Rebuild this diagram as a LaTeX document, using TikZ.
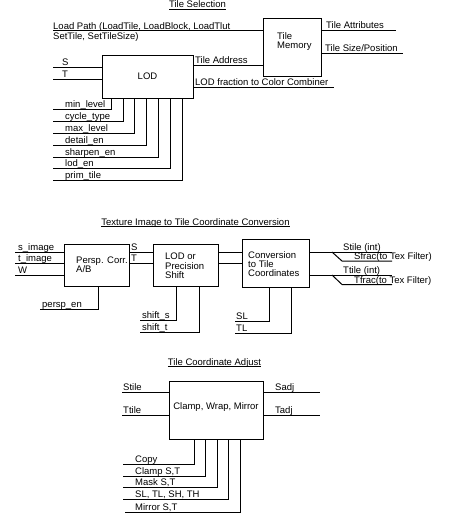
\documentclass[tikz,border=0pt]{standalone}
\usepackage{fontspec}
\setmainfont{Liberation Sans}
\usetikzlibrary{calc}
\tikzset{
	blk/.style={draw, line width=1pt, inner sep=0pt},
	lbl/.style={anchor=base west, inner sep=0pt, font=\fontsize{9.5}{9.2}\selectfont},
	wire/.style={line width=1pt}
}
\newcommand{\ttlline}[1]{\underline{\smash{#1}}}

\begin{document}
\begin{tikzpicture}[x=1pt, y=-1pt]
	%%%%% START %%%%%
	\useasboundingbox (0,0) rectangle (455,523);

	% tile selection
	\node[lbl, anchor=base] (selTitle) at (197.5,7.5) {\ttlline{Tile Selection}};

	\node[blk, minimum width=91, minimum height=43, font=\fontsize{9.5}{9.2}\selectfont] (lod) at (147.5,76.5) {LOD};
	\node[blk, minimum width=58, minimum height=58] (mem) at (292,47) {};
	\node[lbl, anchor=north west, align=left] (memTxt) at (277,32) {Tile\\Memory};

	\node[lbl, anchor=north west, align=left, font=\fontsize{9.5}{10.5}\selectfont] (loadTxt) at (53,22) {Load Path (LoadTile, LoadBlock, LoadTlut\\SetTile, SetTileSize)};
	\coordinate (loadIn) at (53,30);
	\draw[wire] (loadIn) -- (loadIn -| mem.west);

	\coordinate (sIn) at (53,67);
	\coordinate (tIn) at (53,79);
	\draw[wire] (sIn) -- (sIn -| lod.west);
	\draw[wire] (tIn) -- (tIn -| lod.west);
	\node[lbl] (sLbl) at (62,65.5) {S};
	\node[lbl] (tLbl) at (62,77.5) {T};

	\draw[wire] (lod.east |- 0,65) -- (mem.west |- 0,65);
	\node[lbl] (addrLbl) at (195,63.5) {Tile Address};
	\coordinate (fracOut) at (334,87);
	\draw[wire] (lod.east |- fracOut) -- (fracOut);
	\node[lbl] (fracLbl) at (195,85.5) {LOD fraction to Color Combiner};

	\coordinate (attrOut) at (396,30);
	\draw[wire] (mem.east |- attrOut) -- (attrOut);
	\node[lbl] (attrLbl) at (326,28.5) {Tile Attributes};
	\coordinate (sizeOut) at (403,53);
	\draw[wire] (mem.east |- sizeOut) -- (sizeOut);
	\node[lbl] (sizeLbl) at (325,51.5) {Tile Size/Position};

	\foreach \i/\xv/\yv/\txt in {1/111/109/min\_level, 2/123/121/cycle\_type, 3/134/133/max\_level, 4/146/145/detail\_en, 5/158/157/sharpen\_en, 6/170/168/lod\_en, 7/182/180/prim\_tile} {
		\coordinate (lodc\i) at (53,\yv);
		\draw[wire] (lodc\i) -- (\xv,\yv) -- (lod.south -| \xv,0);
		\node[lbl] (lodl\i) at (65,\yv-1.5) {\txt};
	}

	% texture image to tile coordinate conversion
	\node[lbl, anchor=base] (texTitle) at (195.5,225) {\ttlline{Texture Image to Tile Coordinate Conversion}};

	\node[blk, minimum width=65, minimum height=42] (persp) at (96.5,265) {};
	\node[lbl, anchor=north west, align=left] (perspTxt) at (76,256.5) {Persp. Corr.\\A/B};
	\node[blk, minimum width=65, minimum height=42] (shift) at (185.5,265) {};
	\node[lbl, anchor=north west, align=left] (shiftTxt) at (165,253) {LOD or\\Precision\\Shift};
	\node[blk, minimum width=67, minimum height=48] (conv) at (275.5,263) {};
	\node[lbl, anchor=north west, align=left] (convTxt) at (248,251.5) {Conversion\\to Tile\\Coordinates};

	\foreach \i/\yv/\txt in {1/252/s\_image, 2/263/t\_image, 3/275/W} {
		\coordinate (pin\i) at (15,\yv);
		\draw[wire] (pin\i) -- (pin\i -| persp.west);
		\node[lbl] (pinl\i) at (18,\yv-1.5) {\txt};
	}
	\coordinate (perspEn) at (40,309);
	\draw[wire] (perspEn) -- (98,309) -- (persp.south -| 98,0);
	\node[lbl] (perspEnLbl) at (42,307.5) {persp\_en};

	\foreach \i/\yv/\txt in {1/252/S, 2/263/T} {
		\draw[wire] (persp.east |- 0,\yv) -- (shift.west |- 0,\yv);
		\node[lbl] (stl\i) at (131,\yv-1.5) {\txt};
		\draw[wire] (shift.east |- 0,\yv) -- (conv.west |- 0,\yv);
	}

	\foreach \i/\xv/\yv/\txt in {1/176/320/shift\_s, 2/199/332/shift\_t} {
		\coordinate (shc\i) at (140,\yv);
		\draw[wire] (shc\i) -- (\xv,\yv) -- (shift.south -| \xv,0);
		\node[lbl] (shl\i) at (142,\yv-1.5) {\txt};
	}
	\foreach \i/\xv/\yv/\txt in {1/269/321/SL, 2/291/333/TL} {
		\coordinate (cvc\i) at (235,\yv);
		\draw[wire] (cvc\i) -- (\xv,\yv) -- (conv.south -| \xv,0);
		\node[lbl] (cvl\i) at (236,\yv-1.5) {\txt};
	}

	\foreach \i/\yv/\ya/\tint/\fr in {1/252/261/Stile/Sfrac, 2/275/284.5/Ttile/Tfrac} {
		\coordinate (intOut\i) at (392,\yv);
		\coordinate (fracOut\i) at (392,\ya);
		\draw[wire] (conv.east |- intOut\i) -- (intOut\i);
		\draw[wire] (332,\yv) -- (342,\ya) -- (fracOut\i);
		\node[lbl] (intl\i) at (343,\yv-1.5) {\tint\ (int)};
		\node[lbl] (frl\i) at (354,\ya-1.5) {\fr(to Tex Filter)};
	}

	% tile coordinate adjust
	\node[lbl, anchor=base] (adjTitle) at (214.5,365) {\ttlline{Tile Coordinate Adjust}};

	\node[blk, minimum width=94, minimum height=58] (clamp) at (216,410) {};
	\node[lbl, anchor=base] (clampTxt) at (216,409) {Clamp, Wrap, Mirror};

	\foreach \i/\yv/\txt/\ot in {1/392/Stile/Sadj, 2/415/Ttile/Tadj} {
		\coordinate (adjIn\i) at (122,\yv);
		\coordinate (adjOut\i) at (320,\yv);
		\draw[wire] (adjIn\i) -- (adjIn\i -| clamp.west);
		\draw[wire] (clamp.east |- adjOut\i) -- (adjOut\i);
		\node[lbl] (adjil\i) at (123,\yv-1.5) {\txt};
		\node[lbl] (adjol\i) at (275,\yv-1.5) {\ot};
	}

	\foreach \i/\xs/\xv/\yv/\txt in {1/123/194/464/Copy, 2/123/205/476/{Clamp S,T}, 3/123/217/487/{Mask S,T}, 4/123/228/499/{SL, TL, SH, TH}, 5/125/240/512/{Mirror S,T}} {
		\coordinate (adjc\i) at (\xs,\yv);
		\draw[wire] (adjc\i) -- (\xv,\yv) -- (clamp.south -| \xv,0);
		\node[lbl] (adjcl\i) at (135,\yv-1.5) {\txt};
	}

	%%%%% END %%%%%
\end{tikzpicture}
\end{document}
